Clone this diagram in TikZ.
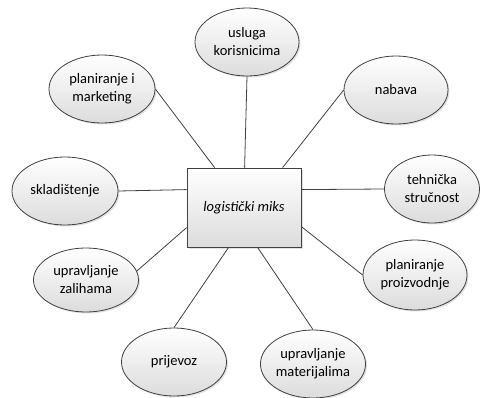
\documentclass[tikz,border=0pt]{standalone}
\usepackage{fontspec}
\setmainfont{Carlito}
\usetikzlibrary{shapes.geometric,shadows,calc}
\definecolor{edge}{HTML}{404040}
\definecolor{shade}{HTML}{DCDCDC}
\tikzset{
  oval/.style={ellipse, draw=edge, line width=0.8pt, inner sep=0pt,
    top color=white, bottom color=shade, align=center,
    font=\fontsize{14.5}{18}\selectfont,
    drop shadow={shadow xshift=1.5pt, shadow yshift=-1.5pt, fill=gray!50, opacity=0.45}},
  hub/.style={rectangle, draw=edge, line width=0.8pt, minimum width=114pt, minimum height=79pt,
    top color=white, bottom color=shade,
    font=\fontsize{14.5}{18}\itshape\selectfont,
    drop shadow={shadow xshift=1.5pt, shadow yshift=-1.5pt, fill=gray!50, opacity=0.45}},
  link/.style={draw=edge, line width=0.8pt}
}
\begin{document}
\begin{tikzpicture}[x=1pt,y=-1pt]
\useasboundingbox (0,0) rectangle (480,397);
\node[hub] (bx) at (244,207.5) {logistički miks};
\node[oval, minimum width=104pt, minimum height=68pt] (us) at (247,42) {usluga\\korisnicima};
\node[oval, minimum width=106pt, minimum height=68pt] (pm) at (102,89) {planiranje i\\marketing};
\node[oval, minimum width=104pt, minimum height=68pt] (nb) at (396,90) {nabava};
\node[oval, minimum width=106pt, minimum height=68pt] (sk) at (65,191) {skladištenje};
\node[oval, minimum width=95pt, minimum height=68pt] (th) at (432,189) {tehnička\\stručnost};
\node[oval, minimum width=104pt, minimum height=70pt] (pp) at (415,275) {planiranje\\proizvodnje};
\node[oval, minimum width=105pt, minimum height=64pt] (uz) at (86,280) {upravljanje\\zalihama};
\node[oval, minimum width=105pt, minimum height=68pt] (pr) at (174,362) {prijevoz};
\node[oval, minimum width=100pt, minimum height=68pt] (um) at (313,364) {upravljanje\\materijalima};
\draw[link] (us.south) -- ($(bx.north west)+(58,0)$);
\draw[link] (pm.east) -- ($(bx.north west)+(28,0)$);
\draw[link] (nb.west) -- ($(bx.north west)+(96,0)$);
\draw[link] (sk.east) -- ($(bx.north west)+(0,22)$);
\draw[link] (th.west) -- ($(bx.north east)+(0,22)$);
\draw[link] (uz.10) -- ($(bx.north west)+(0,60)$);
\draw[link] (pp.west) -- ($(bx.north east)+(0,59)$);
\draw[link] (pr.north) -- ($(bx.south west)+(42,0)$);
\draw[link] (um.north) -- ($(bx.south west)+(71,0)$);
\end{tikzpicture}
\end{document}
